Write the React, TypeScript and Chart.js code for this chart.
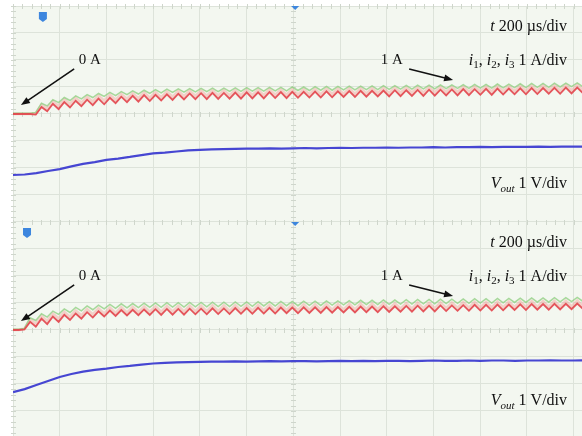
import React, { useEffect, useRef } from "react";
import { Chart, registerables } from "chart.js";
Chart.register(...registerables);

// ---- scope grid (divisions) ----
const X_DIVS = [0, 1, 2, 3, 4, 5, 6, 7, 8, 9, 10, 11, 12];
const Y_DIVS = [1, 2, 3, 4, 5, 6, 7, 8, 9, 10, 11, 12, 13, 14, 15, 16];
const X_MAX = 12.18;
const Y_MAX = 16;
const Y_MIN = 0.074;
const TOP_ZERO = 12; // top screen centre line
const BOT_ZERO = 4; // bottom screen centre line

// sample spacing (div)
const I_STEP = 0.122;
const V_STEP = 0.25;

// ---- top screen: currents (A, 1 A/div) ----
const TOP_I1 = [0,0,0,0,-0.02,0.26,0.10,0.38,0.18,0.44,0.24,0.49,0.29,0.53,0.33,0.57,0.36,0.60,0.40,0.64,0.44,0.67,0.46,0.70,0.48,0.71,0.50,0.73,0.52,0.75,0.54,0.76,0.55,0.77,0.55,0.78,0.56,0.78,0.57,0.79,0.57,0.80,0.58,0.80,0.58,0.81,0.59,0.81,0.59,0.82,0.60,0.82,0.61,0.83,0.61,0.84,0.62,0.84,0.63,0.85,0.63,0.86,0.64,0.86,0.65,0.87,0.65,0.88,0.66,0.88,0.67,0.89,0.67,0.90,0.68,0.90,0.69,0.91,0.69,0.92,0.70,0.92,0.71,0.93,0.71,0.94,0.72,0.94,0.73,0.95,0.73,0.96,0.74,0.96,0.75,0.97,0.75,0.98,0.76,0.98,0.77];
const TOP_I2 = [0.03,0.03,0.03,0.03,0.06,0.40,0.30,0.53,0.42,0.61,0.50,0.67,0.56,0.72,0.61,0.76,0.65,0.80,0.68,0.83,0.72,0.86,0.74,0.88,0.76,0.90,0.78,0.92,0.80,0.93,0.81,0.94,0.82,0.95,0.83,0.96,0.83,0.96,0.84,0.97,0.84,0.98,0.85,0.98,0.85,0.99,0.86,0.99,0.86,1.00,0.87,1.00,0.87,1.01,0.88,1.02,0.88,1.02,0.89,1.03,0.89,1.03,0.90,1.04,0.90,1.05,0.91,1.05,0.92,1.06,0.92,1.07,0.93,1.07,0.93,1.08,0.94,1.08,0.95,1.09,0.95,1.10,0.96,1.10,0.96,1.11,0.97,1.11,0.98,1.12,0.98,1.13,0.99,1.13,0.99,1.14,1.00,1.14,1.01,1.15,1.01];
const TOP_I3 = [0.01,0.01,0.01,0.01,0.02,0.33,0.20,0.46,0.29,0.53,0.36,0.58,0.41,0.63,0.45,0.67,0.49,0.70,0.52,0.73,0.55,0.76,0.57,0.79,0.59,0.80,0.61,0.82,0.63,0.84,0.65,0.85,0.66,0.86,0.66,0.87,0.67,0.87,0.68,0.88,0.68,0.89,0.69,0.89,0.69,0.90,0.70,0.90,0.70,0.91,0.71,0.91,0.72,0.92,0.72,0.93,0.73,0.93,0.74,0.94,0.74,0.95,0.75,0.95,0.76,0.96,0.76,0.97,0.77,0.97,0.78,0.98,0.78,0.99,0.79,0.99,0.80,1.00,0.80,1.01,0.81,1.01,0.82,1.02,0.82,1.03,0.83,1.03,0.84,1.04,0.84,1.05,0.85,1.05,0.86,1.06,0.86,1.07,0.87,1.07,0.88];
// top screen: Vout (div from centre, 1 V/div)
const TOP_VOUT = [-2.26,-2.24,-2.19,-2.11,-2.04,-1.94,-1.85,-1.78,-1.70,-1.65,-1.59,-1.52,-1.46,-1.43,-1.39,-1.35,-1.33,-1.31,-1.30,-1.29,-1.28,-1.28,-1.27,-1.28,-1.27,-1.26,-1.27,-1.26,-1.25,-1.26,-1.25,-1.25,-1.24,-1.25,-1.24,-1.24,-1.23,-1.24,-1.23,-1.23,-1.22,-1.23,-1.22,-1.22,-1.22,-1.21,-1.22,-1.21,-1.21,-1.21];

// ---- bottom screen ----
const BOT_I1 = [0,0,0.02,0.30,0.12,0.42,0.22,0.50,0.30,0.56,0.37,0.61,0.42,0.66,0.46,0.69,0.50,0.72,0.52,0.74,0.54,0.75,0.55,0.76,0.56,0.77,0.56,0.78,0.57,0.78,0.57,0.79,0.58,0.79,0.58,0.80,0.59,0.80,0.59,0.81,0.60,0.81,0.60,0.82,0.61,0.82,0.61,0.83,0.62,0.83,0.62,0.84,0.63,0.84,0.63,0.85,0.64,0.85,0.65,0.86,0.65,0.87,0.66,0.87,0.66,0.88,0.67,0.88,0.68,0.89,0.68,0.90,0.69,0.90,0.69,0.91,0.70,0.91,0.71,0.92,0.71,0.93,0.72,0.93,0.72,0.94,0.73,0.94,0.74,0.95,0.74,0.96,0.75,0.96,0.75,0.97,0.76,0.97,0.77,0.98,0.78];
const BOT_I2 = [0.03,0.03,0.06,0.45,0.35,0.60,0.48,0.70,0.58,0.78,0.65,0.84,0.71,0.89,0.75,0.92,0.78,0.95,0.80,0.97,0.82,0.98,0.83,0.99,0.84,1.00,0.84,1.01,0.85,1.01,0.85,1.02,0.86,1.02,0.86,1.03,0.87,1.03,0.87,1.04,0.88,1.04,0.88,1.05,0.89,1.05,0.89,1.06,0.90,1.06,0.90,1.07,0.91,1.07,0.91,1.08,0.92,1.08,0.93,1.09,0.93,1.10,0.94,1.10,0.94,1.11,0.95,1.11,0.96,1.12,0.96,1.13,0.97,1.13,0.97,1.14,0.98,1.14,0.99,1.15,0.99,1.16,1.00,1.16,1.00,1.17,1.01,1.17,1.02,1.18,1.02,1.19,1.03,1.19,1.03,1.20,1.04,1.20,1.05,1.21,1.06];
const BOT_I3 = [0.01,0.01,0.04,0.38,0.22,0.51,0.33,0.60,0.42,0.66,0.48,0.71,0.53,0.76,0.57,0.79,0.60,0.82,0.62,0.84,0.64,0.85,0.65,0.86,0.66,0.87,0.66,0.88,0.67,0.88,0.67,0.89,0.68,0.89,0.68,0.90,0.69,0.90,0.69,0.91,0.70,0.91,0.70,0.92,0.71,0.92,0.71,0.93,0.72,0.93,0.72,0.94,0.73,0.94,0.73,0.95,0.74,0.95,0.75,0.96,0.75,0.97,0.76,0.97,0.76,0.98,0.77,0.98,0.78,0.99,0.78,1.00,0.79,1.00,0.79,1.01,0.80,1.01,0.81,1.02,0.81,1.03,0.82,1.03,0.82,1.04,0.83,1.04,0.84,1.05,0.84,1.06,0.85,1.06,0.85,1.07,0.86,1.07,0.87,1.08,0.88];
const BOT_VOUT = [-2.30,-2.19,-2.04,-1.89,-1.74,-1.63,-1.54,-1.48,-1.43,-1.37,-1.33,-1.28,-1.24,-1.22,-1.20,-1.19,-1.18,-1.17,-1.17,-1.16,-1.17,-1.16,-1.15,-1.16,-1.15,-1.15,-1.16,-1.15,-1.14,-1.15,-1.14,-1.15,-1.14,-1.14,-1.15,-1.14,-1.13,-1.14,-1.14,-1.13,-1.14,-1.13,-1.13,-1.14,-1.13,-1.13,-1.12,-1.13,-1.13,-1.12];

// ---- labels ----
type Seg = { t: string; it?: boolean; sub?: boolean };
const LBL_TIME: Seg[] = [{ t: "t", it: true }, { t: " 200 \u00b5s/div" }];
const LBL_CUR: Seg[] = [
  { t: "i", it: true }, { t: "1", sub: true }, { t: ", " },
  { t: "i", it: true }, { t: "2", sub: true }, { t: ", " },
  { t: "i", it: true }, { t: "3", sub: true }, { t: " 1 A/div" },
];
const LBL_VOUT: Seg[] = [{ t: "V", it: true }, { t: "out", it: true, sub: true }, { t: " 1 V/div" }];
const LBL_0A: Seg[] = [{ t: "0 A" }];
const LBL_1A: Seg[] = [{ t: "1 A" }];

const series = (vals: number[], step: number, zero: number) =>
  vals.map((v, k) => ({ x: k * step, y: zero + v }));

const FONT_FAMILY = '"Liberation Serif", "DejaVu Serif", serif';

function drawRich(ctx: CanvasRenderingContext2D, segs: Seg[], x: number, y: number, align: "left" | "right", base = 16) {
  const font = (s: Seg) => `${s.it ? "italic " : ""}${s.sub ? Math.round(base * 0.7) : base}px ${FONT_FAMILY}`;
  let w = 0;
  for (const s of segs) { ctx.font = font(s); w += ctx.measureText(s.t).width; }
  let cx = align === "right" ? x - w : x;
  ctx.textBaseline = "middle";
  ctx.textAlign = "left";
  ctx.fillStyle = "#111";
  for (const s of segs) {
    ctx.font = font(s);
    ctx.fillText(s.t, cx, s.sub ? y + 5 : y);
    cx += ctx.measureText(s.t).width;
  }
}

function drawArrow(ctx: CanvasRenderingContext2D, x1: number, y1: number, x2: number, y2: number) {
  const a = Math.atan2(y2 - y1, x2 - x1);
  const L = 9, W = 3.5;
  ctx.strokeStyle = "#111";
  ctx.fillStyle = "#111";
  ctx.lineWidth = 1.6;
  ctx.beginPath();
  ctx.moveTo(x1, y1);
  ctx.lineTo(x2 - Math.cos(a) * L * 0.8, y2 - Math.sin(a) * L * 0.8);
  ctx.stroke();
  ctx.beginPath();
  ctx.moveTo(x2, y2);
  ctx.lineTo(x2 - L * Math.cos(a) + W * Math.sin(a), y2 - L * Math.sin(a) - W * Math.cos(a));
  ctx.lineTo(x2 - L * Math.cos(a) - W * Math.sin(a), y2 - L * Math.sin(a) + W * Math.cos(a));
  ctx.closePath();
  ctx.fill();
}

const scopePlugin = {
  id: "scope",
  beforeDraw(chart: any) {
    const { ctx, chartArea: a } = chart;
    ctx.save();
    ctx.fillStyle = "#ffffff";
    ctx.fillRect(0, 0, chart.width, chart.height);
    ctx.fillStyle = "#f3f7f0";
    ctx.fillRect(a.left, a.top, a.right - a.left, a.bottom - a.top);
    ctx.restore();
  },
  beforeDatasetsDraw(chart: any) {
    const { ctx, scales } = chart;
    const xs = scales.x, ys = scales.y;
    ctx.save();
    ctx.strokeStyle = "#cfd6cc";
    ctx.lineWidth = 1;
    for (const yv of [TOP_ZERO, BOT_ZERO, Y_MAX, 8]) {
      const py = Math.round(ys.getPixelForValue(yv)) + 0.5;
      for (let k = 0; k <= X_MAX * 5; k++) {
        const px = Math.round(xs.getPixelForValue(k / 5)) + 0.5;
        ctx.beginPath();
        ctx.moveTo(px, py - 2.5);
        ctx.lineTo(px, py + 2.5);
        ctx.stroke();
      }
    }
    for (const xv of [6, 0]) {
      const px = Math.round(xs.getPixelForValue(xv)) + 0.5;
      for (let k = 1; k <= Y_MAX * 5; k++) {
        const py = Math.round(ys.getPixelForValue(k / 5)) + 0.5;
        ctx.beginPath();
        ctx.moveTo(px - 2.5, py);
        ctx.lineTo(px + 2.5, py);
        ctx.stroke();
      }
    }
    ctx.restore();
  },
  afterDraw(chart: any) {
    const { ctx, scales } = chart;
    const X = (v: number) => scales.x.getPixelForValue(v);
    const Y = (v: number) => scales.y.getPixelForValue(v);
    ctx.save();
    const marker = (px: number, py: number) => {
      ctx.fillStyle = "#3d86de";
      ctx.beginPath();
      ctx.moveTo(px - 4, py - 5);
      ctx.lineTo(px + 4, py - 5);
      ctx.lineTo(px + 4, py + 2);
      ctx.lineTo(px, py + 5);
      ctx.lineTo(px - 4, py + 2);
      ctx.closePath();
      ctx.fill();
    };
    marker(X(0.64), Y(15.59));
    marker(X(0.30), Y(7.59));
    const tri = (px: number, py: number) => {
      ctx.fillStyle = "#3d86de";
      ctx.beginPath();
      ctx.moveTo(px - 4, py);
      ctx.lineTo(px + 4, py);
      ctx.lineTo(px, py + 4);
      ctx.closePath();
      ctx.fill();
    };
    tri(X(6.04), Y(16));
    tri(X(6.04), Y(8));

    for (const dy of [0, -8]) {
      drawRich(ctx, LBL_TIME, X(11.86), Y(15.22 + dy), "right");
      drawRich(ctx, LBL_CUR, X(11.86), Y(13.98 + dy), "right");
      drawRich(ctx, LBL_1A, X(7.87), Y(13.98 + dy), "left", 15);
      drawRich(ctx, LBL_0A, X(1.41), Y(13.98 + dy), "left", 15);
      drawArrow(ctx, X(8.48), Y(13.67 + dy), X(9.42), Y(13.26 + dy));
      drawArrow(ctx, X(1.31), Y(13.67 + dy), X(0.17), Y(12.33 + dy));
    }
    drawRich(ctx, LBL_VOUT, X(11.86), Y(9.41), "right");
    drawRich(ctx, LBL_VOUT, X(11.86), Y(1.37), "right");
    ctx.restore();
  },
};

export default function App() {
  const ref = useRef<HTMLCanvasElement>(null);
  useEffect(() => {
    if (!ref.current) return;
    const line = (data: any[], color: string, width: number) => ({
      data,
      borderColor: color,
      borderWidth: width,
      pointRadius: 0,
      tension: 0,
      fill: false,
    });
    const chart = new Chart(ref.current, {
      type: "line",
      data: {
        datasets: [
          line(series(TOP_VOUT, V_STEP, TOP_ZERO), "#4646d2", 2.2),
          line(series(BOT_VOUT, V_STEP, BOT_ZERO), "#4646d2", 2.2),
          line(series(TOP_I1, I_STEP, TOP_ZERO), "rgba(226,66,74,0.9)", 1.8),
          line(series(BOT_I1, I_STEP, BOT_ZERO), "rgba(226,66,74,0.9)", 1.8),
          line(series(TOP_I2, I_STEP, TOP_ZERO), "rgba(140,205,125,0.75)", 1.5),
          line(series(BOT_I2, I_STEP, BOT_ZERO), "rgba(140,205,125,0.75)", 1.5),
          line(series(TOP_I3, I_STEP, TOP_ZERO), "rgba(242,160,150,0.45)", 3),
          line(series(BOT_I3, I_STEP, BOT_ZERO), "rgba(242,160,150,0.45)", 3),
        ],
      },
      options: {
        animation: false,
        responsive: false,
        events: [],
        layout: { padding: { left: 13, top: 6, right: 0, bottom: 0 } },
        plugins: { legend: { display: false }, tooltip: { enabled: false } },
        scales: {
          x: {
            type: "linear",
            min: 0,
            max: X_MAX,
            afterBuildTicks: (s: any) => { s.ticks = X_DIVS.map((v) => ({ value: v })); },
            afterFit: (s: any) => { s.height = 0; },
            ticks: { display: false },
            grid: { color: "#dde3da", lineWidth: 1, drawTicks: false },
            border: { display: false },
          },
          y: {
            type: "linear",
            min: Y_MIN,
            max: Y_MAX,
            afterBuildTicks: (s: any) => { s.ticks = Y_DIVS.map((v) => ({ value: v })); },
            afterFit: (s: any) => { s.width = 0; },
            ticks: { display: false },
            grid: { color: "#dde3da", lineWidth: 1, drawTicks: false },
            border: { display: false },
          },
        },
      },
      plugins: [scopePlugin],
    });
    return () => chart.destroy();
  }, []);
  return (
    <div style={{ position: "absolute", left: 0, top: 0, width: 582, height: 436 }}>
      <canvas ref={ref} width={582} height={436} style={{ width: 582, height: 436, display: "block" }} />
    </div>
  );
}
